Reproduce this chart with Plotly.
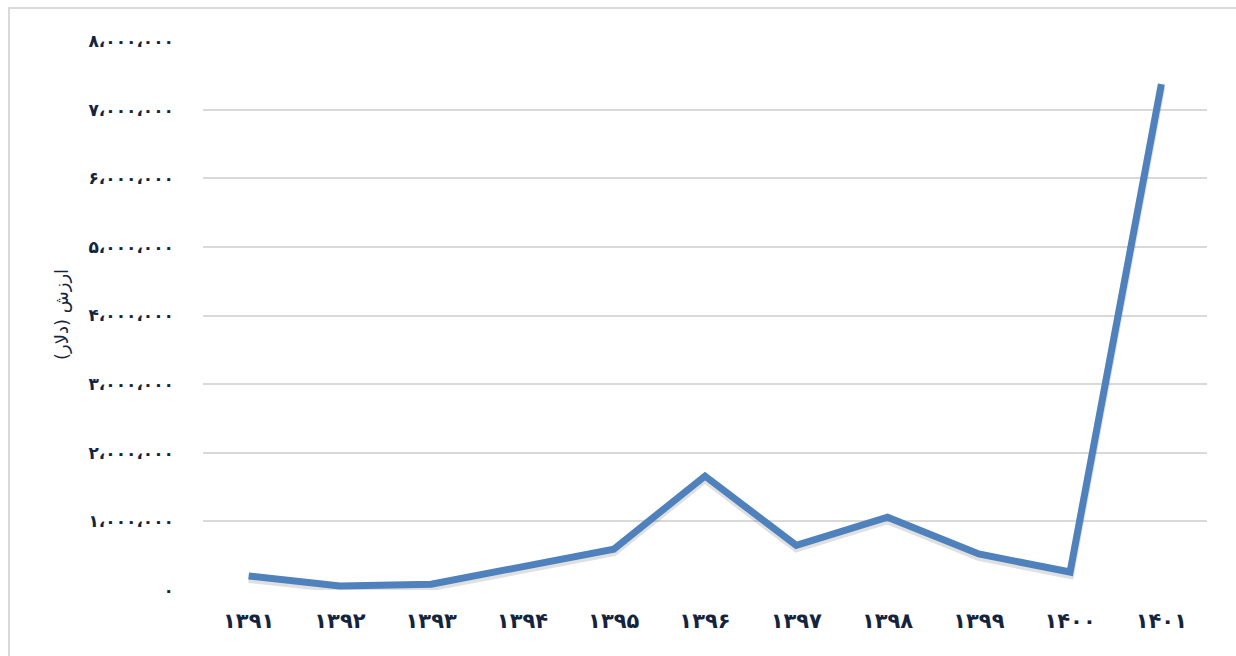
import plotly.graph_objects as go

# Years (Solar Hijri) and value in dollars
years = ["۱۳۹۱", "۱۳۹۲", "۱۳۹۳", "۱۳۹۴", "۱۳۹۵", "۱۳۹۶",
         "۱۳۹۷", "۱۳۹۸", "۱۳۹۹", "۱۴۰۰", "۱۴۰۱"]
values = [205000, 60000, 85000, 335000, 595000, 1660000,
          650000, 1060000, 525000, 262000, 7370000]

y_tickvals = [0, 1000000, 2000000, 3000000, 4000000,
              5000000, 6000000, 7000000, 8000000]
y_ticktext = ["۰", "۱،۰۰۰،۰۰۰", "۲،۰۰۰،۰۰۰", "۳،۰۰۰،۰۰۰", "۴،۰۰۰،۰۰۰",
              "۵،۰۰۰،۰۰۰", "۶،۰۰۰،۰۰۰", "۷،۰۰۰،۰۰۰", "۸،۰۰۰،۰۰۰"]
y_title = "ارزش (دلار)"

W, H = 1236, 656
L, R, T, B = 203, 29, 41, 66
plot_w = W - L - R
plot_h = H - T - B

ink = "#15243d"
font = "DejaVu Sans"
y_range = [0, 8000000]
# soft drop shadow: the series on the base axis, shifted a few pixels down
shift = 3 / plot_h * (y_range[1] - y_range[0])

fig = go.Figure()
fig.add_trace(go.Scatter(
    x=years, y=values, mode="lines", yaxis="y",
    line=dict(color="rgba(0,0,0,0.12)", width=8),
    hoverinfo="skip", showlegend=False,
))
fig.add_trace(go.Scatter(
    x=years, y=values, mode="lines", yaxis="y2",
    line=dict(color="#4f81bd", width=7),
    showlegend=False,
))

fig.update_layout(
    width=W, height=H,
    margin=dict(l=L, r=R, t=T, b=B),
    paper_bgcolor="white", plot_bgcolor="white",
    font=dict(family=font, color=ink),
    xaxis=dict(
        type="category", range=[-0.5, len(years) - 0.5],
        showgrid=False, zeroline=False, showline=False,
        ticks="", ticklabelstandoff=16,
        tickfont=dict(size=21, family=font, color=ink, weight="bold"),
    ),
    yaxis=dict(
        range=[y_range[0] + shift, y_range[1] + shift],
        showgrid=False, zeroline=False, showline=False,
        showticklabels=False, ticks="",
    ),
    yaxis2=dict(
        overlaying="y", side="left",
        range=y_range, tickvals=y_tickvals, ticktext=y_ticktext,
        showgrid=True, gridcolor="#d9d9d9", gridwidth=2,
        zeroline=False, showline=False, ticks="",
        ticklabelstandoff=28,
        tickfont=dict(size=17, family=font, color=ink, weight="bold"),
    ),
    annotations=[dict(
        text=y_title, textangle=-90, showarrow=False,
        xref="paper", yref="paper",
        x=(61 - L) / plot_w, y=(H - B - 315) / plot_h,
        xanchor="center", yanchor="middle",
        font=dict(size=18, family=font, color=ink),
    )],
    shapes=[dict(
        type="rect", xref="paper", yref="paper",
        x0=(9 - L) / plot_w, x1=1.2, y0=-0.3, y1=(H - B - 8) / plot_h,
        line=dict(color="#d9d9d9", width=2), layer="below",
    )],
)

fig.write_html("out.html")
